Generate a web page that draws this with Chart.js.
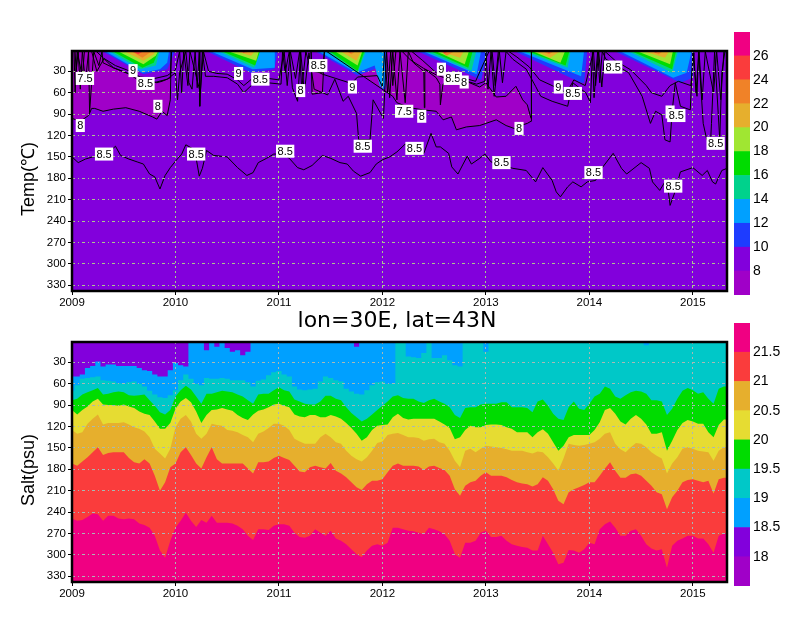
<!DOCTYPE html>
<html>
<head>
<meta charset="utf-8">
<script src="https://cdn.jsdelivr.net/npm/chart.js@4"></script>
<style>
  html, body { margin: 0; padding: 0; background: #fff; }
  canvas { position: absolute; }
</style>
</head>
<body>
<canvas id="tempChart" width="800" height="309" style="left:0;top:0"></canvas>
<canvas id="saltChart" width="800" height="309" style="left:0;top:309px"></canvas>
<canvas id="tempBar" width="66" height="309" style="left:734px;top:0"></canvas>
<canvas id="saltBar" width="66" height="309" style="left:734px;top:309px"></canvas>
<script>
const yearTicks = [2009, 2010, 2011, 2012, 2013, 2014, 2015];
const depthTicks = [30, 60, 90, 120, 150, 180, 210, 240, 270, 300, 330];

// ---- salinity: depth (m) of each isohaline on a common time grid
const times = [
  2009.00,2009.05,2009.10,2009.15,2009.20,2009.25,2009.30,2009.35,2009.40,2009.45,2009.50,2009.55,2009.60,2009.65,2009.70,2009.75,2009.80,2009.85,2009.90,2009.95,
  2010.00,2010.05,2010.10,2010.15,2010.20,2010.25,2010.30,2010.35,2010.40,2010.45,2010.50,2010.55,2010.60,2010.65,2010.70,2010.75,2010.80,2010.85,2010.90,2010.95,
  2011.00,2011.05,2011.10,2011.15,2011.20,2011.25,2011.30,2011.35,2011.40,2011.45,2011.50,2011.55,2011.60,2011.65,2011.70,2011.75,2011.80,2011.85,2011.90,2011.95,
  2012.00,2012.05,2012.10,2012.15,2012.20,2012.25,2012.30,2012.35,2012.40,2012.45,2012.50,2012.55,2012.60,2012.65,2012.70,2012.75,2012.80,2012.85,2012.90,2012.95,
  2013.00,2013.05,2013.10,2013.15,2013.20,2013.25,2013.30,2013.35,2013.40,2013.45,2013.50,2013.55,2013.60,2013.65,2013.70,2013.75,2013.80,2013.85,2013.90,2013.95,
  2014.00,2014.05,2014.10,2014.15,2014.20,2014.25,2014.30,2014.35,2014.40,2014.45,2014.50,2014.55,2014.60,2014.65,2014.70,2014.75,2014.80,2014.85,2014.90,2014.95,
  2015.00,2015.05,2015.10,2015.15,2015.20,2015.25,2015.30,2015.35];
const salt185 = [
  50,50,47,38,35,29,36,33,33,35,35,35,35,38,41,42,47,50,50,41,
  31,34,36,0,0,0,13,0,8,0,10,15,13,20,15,0,0,0,0,0,
  0,0,0,0,0,0,0,0,0,0,0,0,0,0,0,8,0,0,0,0,
  0,0,0,0,0,0,0,0,0,0,0,0,0,0,0,0,0,0,0,0,
  0,0,0,0,0,0,0,0,0,0,0,0,0,0,0,0,0,0,0,0,
  0,0,0,0,0,0,0,0,0,0,0,0,0,0,0,0,0,0,0,0,
  0,0,0,0,0,0,0,0];
const salt19 = [
  70,62,53,52,51,50,55,56,57,59,60,58,57,60,64,70,75,79,80,76,
  69,55,47,53,60,62,52,53,53,52,53,55,55,55,58,64,56,54,48,44,
  42,47,50,64,68,69,68,67,57,50,52,55,57,67,71,74,75,69,62,58,
  57,60,60,0,0,22,23,24,17,0,24,24,20,27,34,36,0,0,0,0,
  15,0,0,0,0,0,0,0,0,0,0,0,0,0,0,0,0,0,0,0,
  0,0,0,0,0,0,0,0,0,0,0,6,0,0,0,0,0,0,0,0,
  0,0,0,0,0,0,0,0];
const salt195 = [
  83,81,75,72,69,66,75,74,72,71,72,76,77,76,75,83,91,100,103,97,
  78,69,63,68,78,88,74,74,72,70,71,72,75,78,83,88,75,74,74,69,
  65,69,71,82,85,88,89,89,85,77,77,81,83,93,101,107,113,109,103,97,
  91,85,78,76,80,81,81,85,87,83,81,85,88,93,104,108,94,93,93,89,
  88,88,88,86,86,93,93,93,94,100,85,82,91,102,109,111,93,85,95,97,
  88,78,74,64,67,78,81,76,72,70,71,74,83,83,85,104,95,81,70,66,
  69,74,72,81,88,67,64,64];
const salt20 = [
  97,103,97,92,85,81,89,90,90,91,89,92,94,99,102,104,113,123,123,115,
  95,85,80,86,99,115,104,97,96,94,96,98,104,108,111,103,98,96,93,89,
  88,91,93,103,106,107,104,104,107,107,104,106,109,115,122,130,140,135,125,119,
  118,117,107,102,108,110,109,109,109,109,109,113,117,122,138,135,125,119,121,121,
  118,117,117,118,121,123,128,128,128,135,128,124,130,142,154,147,135,132,132,132,
  132,125,114,97,94,102,113,117,109,104,109,117,130,130,128,154,140,125,115,111,
  113,116,116,128,135,118,110,110];
const salt205 = [
  125,130,128,116,109,103,117,115,115,115,114,117,121,123,127,135,151,158,165,151,
  121,109,104,113,130,137,130,116,118,119,125,126,128,132,135,142,130,127,122,116,
  116,119,125,137,141,144,144,144,135,130,135,142,144,154,161,166,169,163,154,143,
  141,132,130,129,132,135,135,136,140,138,137,142,144,154,168,177,154,151,156,151,
  147,148,149,150,152,154,154,154,156,158,155,156,163,172,182,165,144,146,147,146,
  144,142,137,130,128,144,152,156,149,143,144,149,156,161,165,186,172,163,151,149,
  151,154,155,156,168,154,149,149];
const salt21 = [
  172,175,169,163,156,149,160,157,156,156,156,164,170,172,166,172,189,210,198,177,
  172,156,149,160,172,179,163,149,166,172,172,172,172,172,179,186,170,170,169,164,
  161,164,167,175,183,184,177,175,177,179,171,182,186,191,198,205,209,201,196,196,
  194,184,175,172,175,175,175,176,181,176,175,178,181,189,208,217,203,198,196,189,
  184,189,189,189,191,195,198,200,201,204,201,191,196,208,224,229,212,208,205,202,
  198,198,189,179,170,182,192,192,187,186,189,196,203,212,215,236,219,210,198,195,
  194,196,198,196,214,194,192,192];
const salt215 = [
  249,252,251,247,242,243,252,245,245,249,250,249,250,256,258,262,273,294,304,280,
  262,252,241,252,261,251,255,245,255,255,255,256,259,264,273,279,264,264,265,259,
  257,257,259,269,275,276,273,264,269,273,266,277,280,285,292,299,303,294,287,285,
  287,283,262,262,264,266,267,269,271,262,264,267,271,280,299,304,283,283,280,269,
  266,275,275,273,280,285,287,289,290,294,294,273,285,297,313,311,293,294,297,292,
  283,285,264,257,253,262,273,273,266,264,273,285,291,294,292,318,287,280,277,273,
  273,277,277,285,297,273,270,270];
const saltLevels = [18.5, 19, 19.5, 20, 20.5, 21, 21.5];

// ---- temperature: depth of each isotherm, [year, depth]
const iso10 = [[2009.27,0],[2009.69,34],[2009.92,27],[2010.00,0],[2010.275,0],[2010.73,32],[2010.955,27],[2010.99,0],[2011.33,0],[2011.76,36],[2011.96,25],[2011.985,55],[2012.03,55],[2012.04,0],[2012.31,0],[2012.955,42],[2013.02,0],[2013.25,0],[2013.92,46],[2013.95,46],[2013.98,0],[2014.22,0],[2014.88,46],[2015.00,39],[2015.01,0],[2015.29,0],[2015.33,6]];
const iso12 = [[2009.30,0],[2009.68,32],[2009.85,27],[2009.92,18],[2009.94,0],[2010.31,0],[2010.745,27],[2010.955,25],[2010.96,0],[2011.36,0],[2011.75,32],[2011.925,22],[2011.975,51],[2012.02,51],[2012.021,0],[2012.36,0],[2012.91,34],[2012.955,0],[2013.29,0],[2013.92,37],[2013.95,0],[2014.27,0],[2014.81,39],[2014.94,32],[2014.99,0]];
const iso14 = [[2009.34,0],[2009.66,27],[2009.81,22],[2009.85,0],[2010.39,0],[2010.76,25],[2010.825,0],[2011.44,0],[2011.76,32],[2011.845,0],[2012.39,0],[2012.86,29.5],[2012.91,0],[2013.33,0],[2013.79,25],[2013.82,0],[2014.35,0],[2014.80,32],[2014.86,0]];
const iso16 = [[2009.37,0],[2009.68,25],[2009.79,18],[2009.84,0],[2010.42,0],[2010.77,22],[2010.82,0],[2011.47,0],[2011.76,29.5],[2011.83,0],[2012.44,0],[2012.83,25],[2012.875,0],[2013.37,0],[2013.77,22],[2013.81,0],[2014.38,0],[2014.80,27],[2014.84,0]];
const iso18 = [[2009.42,0],[2009.69,20],[2009.81,8],[2009.84,0],[2010.47,0],[2010.78,15],[2010.81,0],[2011.52,0],[2011.76,22],[2011.81,0],[2012.49,0],[2012.795,20],[2012.84,0],[2013.42,0],[2013.72,18],[2013.77,0],[2014.43,0],[2014.78,20],[2014.81,0]];
const iso20 = [[2009.48,0],[2009.69,15],[2009.79,6],[2009.81,0],[2010.53,0],[2010.73,8],[2010.78,0],[2011.57,0],[2011.75,15],[2011.80,0],[2012.52,0],[2012.75,11],[2012.795,0],[2013.46,0],[2013.62,11],[2013.74,0],[2014.48,0],[2014.73,11],[2014.78,0]];
const iso22 = [[2009.55,0],[2009.68,11],[2009.76,3],[2009.77,0],[2010.60,0],[2010.68,4],[2010.745,0],[2011.63,0],[2011.70,6],[2011.76,0],[2012.55,0],[2012.62,8],[2012.72,0],[2013.52,0],[2013.61,6],[2013.68,0],[2014.57,0],[2014.67,6],[2014.73,0]];
const iso24 = [[2009.56,0],[2009.64,6],[2009.71,0],[2010.615,0],[2010.66,4],[2010.71,0],[2011.65,0],[2011.69,4],[2011.73,0],[2012.57,0],[2012.60,5],[2012.66,0],[2013.56,0],[2013.61,4],[2013.66,0],[2014.59,0],[2014.64,4],[2014.70,0]];
const iso26 = [[2014.60,0],[2014.63,2.5],[2014.66,0]];

// water colder than 8: patch between coldUpper and coldLower
const coldTimes = [2009.00,2009.08,2009.16,2009.19,2009.22,2009.30,2009.40,2009.52,2009.65,2009.78,2009.82,2009.87,2009.92,2009.95,2009.96,2011.31,2011.32,2011.42,2011.44,2012.10,2012.14,2012.266,2012.39,2012.52,2012.586,2012.667,2012.715,2012.81,2012.94,2013.00,2013.10,2013.195,2013.29,2013.356,2013.40,2013.436,2013.44];
const coldLower = [96,100,92,82,82,86,83,81,86,94,97,86,92,70,0,0,62,60,0,65,74,81,84,86,98,94,112,108,106,103,98,106,111,105,103,100,0];
const coldUpper = [0,0,0,0,0,11,25,32,39,44,46,44,41,39,0,0,30,32,0,0,0,0,15,32,34,37,38,44,52,46,66,65,51,70,77,96,0];

// contour lines
const line85Deep = [[2009.00,150],[2009.06,158],[2009.13,153],[2009.20,150],[2009.27,149],[2009.34,146],[2009.42,135],[2009.47,148],[2009.55,153],[2009.63,157],[2009.69,160],[2009.75,174],[2009.80,178],[2009.85,195],[2009.90,176],[2009.95,165],[2010.00,156],[2010.06,146],[2010.10,133],[2010.16,138],[2010.20,152],[2010.23,177],[2010.26,166],[2010.30,141],[2010.37,148],[2010.50,150],[2010.60,165],[2010.69,176],[2010.75,172],[2010.80,158],[2010.88,152],[2010.95,146],[2011.04,146],[2011.10,152],[2011.18,165],[2011.24,168],[2011.32,162],[2011.42,148],[2011.50,152],[2011.59,158],[2011.66,160],[2011.72,170],[2011.79,177],[2011.88,172],[2011.94,160],[2012.00,154],[2012.07,150],[2012.14,143],[2012.14,143],[2012.22,132],[2012.30,145],[2012.40,145],[2012.47,117],[2012.52,136],[2012.56,136],[2012.64,145],[2012.67,164],[2012.73,174],[2012.78,160],[2012.82,149],[2012.86,160],[2012.94,152],[2012.99,146],[2013.05,157],[2013.26,166],[2013.39,169],[2013.48,185],[2013.55,165],[2013.64,183],[2013.68,199],[2013.72,206],[2013.79,192],[2013.84,185],[2013.92,192],[2013.98,185],[2014.06,183],[2014.12,166],[2014.23,145],[2014.31,166],[2014.36,174],[2014.50,158],[2014.58,166],[2014.61,185],[2014.68,197],[2014.73,185],[2014.76,195],[2014.78,218],[2014.82,202],[2014.88,171],[2015.00,165],[2015.09,176],[2015.14,169],[2015.19,185],[2015.22,188],[2015.28,169],[2015.33,166]];
const line85Upper = [[2009.03,2],[2009.04,30],[2009.06,2],[2009.08,55],[2009.10,2],[2009.13,46],[2009.16,2],[2009.17,88],[2009.21,2],[2009.26,22],[2009.29,2],[2009.30,18],[2009.40,25],[2009.53,32],[2009.66,44],[2009.79,46],[2009.92,41],[2010.00,32],[2010.02,70],[2010.04,32],[2010.10,2],[2010.13,46],[2010.16,55],[2010.19,2],[2010.21,53],[2010.23,2],[2010.235,79],[2010.26,2],[2010.29,37],[2010.37,37],[2010.50,39],[2010.60,48],[2010.66,60],[2010.76,46],[2010.89,46],[2011.02,48],[2011.035,2],[2011.06,32],[2011.10,2],[2011.13,53],[2011.18,72],[2011.21,2],[2011.245,60],[2011.29,4],[2011.34,55],[2011.47,63],[2011.54,41],[2011.62,72],[2011.67,65],[2011.75,89],[2011.77,126],[2011.88,126],[2011.91,70],[2012.01,96],[2012.04,2],[2012.07,67],[2012.10,2],[2012.14,70],[2012.17,2],[2012.22,74],[2012.25,2],[2012.30,18],[2012.40,30],[2012.405,81],[2012.41,27],[2012.52,39],[2012.555,48],[2012.56,77],[2012.585,48],[2012.75,41],[2012.91,48],[2012.99,44],[2013.00,2],[2013.02,55],[2013.05,2],[2013.08,65],[2013.13,2],[2013.16,46],[2013.195,2],[2013.23,8],[2013.26,13],[2013.39,27],[2013.48,51],[2013.53,65],[2013.64,72],[2013.79,79],[2013.84,46],[2013.965,60],[2014.01,74],[2014.03,2],[2014.045,67],[2014.08,2],[2014.10,46],[2014.125,2],[2014.16,13],[2014.22,18],[2014.38,32],[2014.51,65],[2014.59,103],[2014.64,86],[2014.70,91],[2014.73,126],[2014.78,129],[2014.80,86],[2014.83,46],[2014.88,79],[2014.975,84],[2015.00,4],[2015.04,65],[2015.055,2],[2015.10,103],[2015.135,126],[2015.17,133],[2015.18,103],[2015.21,2],[2015.26,126],[2015.28,32],[2015.31,2]];
const line9Upper = [[2009.02,2],[2009.03,60],[2009.05,2],[2009.10,38],[2009.12,2],[2009.19,2],[2009.24,30],[2009.31,12],[2009.42,22],[2009.53,28],[2009.66,38],[2009.80,40],[2009.92,36],[2010.00,28],[2010.04,2],[2010.06,60],[2010.08,2],[2010.12,50],[2010.14,2],[2010.24,60],[2010.27,2],[2010.32,30],[2010.40,33],[2010.50,34],[2010.60,42],[2010.66,50],[2010.76,38],[2010.90,40],[2011.00,42],[2011.05,2],[2011.08,50],[2011.11,2],[2011.16,40],[2011.20,2],[2011.22,55],[2011.26,2],[2011.30,25],[2011.42,34],[2011.55,40],[2011.70,47],[2011.76,38],[2011.95,36],[2012.00,52],[2012.02,2],[2012.05,60],[2012.08,2],[2012.10,50],[2012.13,2],[2012.19,2],[2012.27,14],[2012.40,26],[2012.52,35],[2012.62,40],[2012.75,38],[2012.90,44],[2013.03,2],[2013.06,2],[2013.09,50],[2013.12,2],[2013.22,2],[2013.30,10],[2013.42,24],[2013.52,42],[2013.64,50],[2013.78,60],[2013.85,42],[2013.96,50],[2014.04,2],[2014.06,50],[2014.09,2],[2014.12,52],[2014.15,2],[2014.25,15],[2014.40,28],[2014.55,50],[2014.60,60],[2014.70,65],[2014.78,50],[2014.86,44],[2014.98,50],[2015.01,4],[2015.03,60],[2015.06,2],[2015.09,70],[2015.12,2],[2015.20,60],[2015.23,2],[2015.27,70],[2015.30,2]];

// contour labels
const labelTexts = ['7.5','9','8.5','8','8','8.5','8.5','9','8.5','8','8.5','8.5','9','8.5','7.5','8','8.5','9','8.5','8','8','8.5','9','8.5','8.5','8.5','9','8.5','8.5','8.5'];
const labelYears = [2009.125,2009.59,2009.71,2009.83,2009.08,2009.31,2010.20,2010.61,2010.82,2011.21,2011.06,2011.38,2011.71,2011.81,2012.21,2012.38,2012.31,2012.57,2012.68,2012.79,2013.32,2013.15,2013.70,2013.84,2014.04,2014.23,2014.78,2014.84,2015.22,2014.81];
const labelDepths = [40,29,47,79,106,146,146,33,41,57,142,22,52,135,86,93,138,27,40,45,110,158,52,61,172,24,87,92,131,191];

// colour bars
const tempBarEdges = [6,8,10,12,14,16,18,20,22,24,26,28];
const tempBarColors = ['#a000c8','#8200dc','#1e3cff','#00a0ff','#00d28c','#00dc00','#a0e632','#e6af2d','#f08228','#fa3c3c','#f00082'];
const saltBarEdges = [17.5,18,18.5,19,19.5,20,20.5,21,21.5,22];
const saltBarColors = ['#a000c8','#8200dc','#00a0ff','#00c8c8','#00dc00','#e6dc32','#e6af2d','#fa3c3c','#f00082'];

const fontName = '"Liberation Sans", sans-serif';
const depthMin = 1.5, depthMax = 338;

Chart.defaults.animation = false;
Chart.defaults.responsive = false;
Chart.defaults.devicePixelRatio = 1;
Chart.defaults.events = [];
Chart.defaults.color = '#000';

function pts(pairs) { return pairs.map(p => ({x: p[0], y: p[1]})); }
function grid(ts, ds) { return ts.map((t, i) => ({x: t, y: ds[i]})); }

// background under the marks; side title, frame and contour labels above them
function panelPlugin(bg, labels, sideTitle, heading) {
  return {
    id: 'panel',
    beforeDraw(chart) {
      const a = chart.chartArea, c = chart.ctx;
      c.fillStyle = bg;
      c.fillRect(a.left, a.top, a.width, a.height);
    },
    afterDraw(chart) {
      const a = chart.chartArea, c = chart.ctx;
      c.save();
      if (labels) {
        c.font = '11px ' + fontName;
        c.textAlign = 'center';
        c.textBaseline = 'middle';
        labelTexts.forEach((t, i) => {
          const x = chart.scales.x.getPixelForValue(labelYears[i]);
          const y = chart.scales.y.getPixelForValue(labelDepths[i]);
          const w = c.measureText(t).width + 3;
          c.fillStyle = '#fff';
          c.fillRect(x - w / 2, y - 6.5, w, 13);
          c.fillStyle = '#000';
          c.fillText(t, x, y + 0.5);
        });
      }
      c.strokeStyle = '#000';
      c.lineWidth = 2.5;
      c.strokeRect(a.left, a.top, a.width, a.height);
      c.fillStyle = '#000';
      c.textAlign = 'center';
      c.textBaseline = 'middle';
      if (heading) {
        c.font = '22px "DejaVu Sans", sans-serif';
        c.fillText(heading, 397, 12);
      }
      c.translate(29, (a.top + a.bottom) / 2 + 8);
      c.rotate(-Math.PI / 2);
      c.font = '18px ' + fontName;
      c.fillText(sideTitle, 0, 0);
      c.restore();
    }
  };
}

function panelScales(gridColor) {
  return {
    x: {
      type: 'linear', min: 2009, max: 2015.33,
      afterBuildTicks(s) { s.ticks = yearTicks.map(v => ({value: v})); },
      afterFit(s) { s.height = 18; },
      ticks: {font: {family: fontName, size: 11.5}, maxRotation: 0, autoSkip: false, padding: 1, callback: v => String(v)},
      grid: {color: gridColor, lineWidth: 1, z: 1, tickLength: 4, tickColor: '#000', tickBorderDash: [0, 0]},
      border: {display: false, dash: [2, 3]}
    },
    y: {
      type: 'linear', reverse: true, min: depthMin, max: depthMax,
      afterBuildTicks(s) { s.ticks = depthTicks.map(v => ({value: v})); },
      afterFit(s) { s.width = 72; },
      ticks: {font: {family: fontName, size: 11.5}, autoSkip: false, padding: 2, callback: v => String(v)},
      grid: {color: gridColor, lineWidth: 1, z: 1, tickLength: 4, tickColor: '#000', tickBorderDash: [0, 0]},
      border: {display: false, dash: [3, 3, 1, 3]}
    }
  };
}

// temperature panel, painted from the bottom layer up
const tempData = [];
function addFill(data, color, value) {
  tempData.push({data: data, borderWidth: 0, pointRadius: 0, backgroundColor: color, fill: {value: value}});
}
addFill(grid(coldTimes, coldLower), '#a000c8', 0);
addFill(grid(coldTimes, coldUpper), '#8200dc', 0);
[iso10, iso12, iso14, iso16, iso18, iso20, iso22, iso24, iso26].forEach((iso, i) => {
  addFill(pts(iso), tempBarColors[i + 2], 0);
});
[grid(coldTimes, coldLower), grid(coldTimes, coldUpper), pts(line9Upper), pts(line85Upper), pts(line85Deep)].forEach(d => {
  tempData.push({data: d, borderColor: '#000', borderWidth: 1, pointRadius: 0, fill: false});
});

new Chart(document.getElementById('tempChart'), {
  type: 'line',
  data: {datasets: tempData.reverse()},
  options: {
    layout: {padding: {left: 0, right: 73, top: 51, bottom: 0}},
    plugins: {legend: {display: false}},
    scales: panelScales('#a8c88c')
  },
  plugins: [panelPlugin('#8200dc', true, 'Temp(℃)')]
});

// salinity panel
const saltLayers = [salt185, salt19, salt195, salt20, salt205, salt21, salt215];
const saltColors = saltBarColors.slice(2);
const saltData = saltLayers.map((s, i) => ({
  label: String(saltLevels[i]), data: grid(times, s), borderWidth: 0, pointRadius: 0,
  stepped: i < 2 ? 'middle' : false, backgroundColor: saltColors[i], fill: {value: depthMax}
}));

new Chart(document.getElementById('saltChart'), {
  type: 'line',
  data: {datasets: saltData.reverse()},
  options: {
    layout: {padding: {left: 0, right: 73, top: 33, bottom: 18}},
    plugins: {legend: {display: false}},
    scales: panelScales('#a8b8b4')
  },
  plugins: [panelPlugin('#8200dc', false, 'Salt(psu)', 'lon=30E, lat=43N')]
});

function colorBar(id, edges, colors, top, bottom) {
  new Chart(document.getElementById(id), {
    type: 'bar',
    data: {
      labels: [''],
      datasets: colors.map((c, i) => ({
        data: [[edges[i], edges[i + 1]]], backgroundColor: c, borderWidth: 0,
        barPercentage: 1, categoryPercentage: 1
      }))
    },
    options: {
      layout: {padding: {left: 0, right: 0, top: top, bottom: bottom}},
      plugins: {legend: {display: false}},
      scales: {
        x: {display: false, stacked: true},
        y: {
          position: 'right', min: edges[0], max: edges[edges.length - 1],
          afterFit(s) { s.width = 50; },
          afterBuildTicks(s) { s.ticks = edges.slice(1, -1).map(v => ({value: v})); },
          ticks: {font: {family: fontName, size: 14}, padding: 3, autoSkip: false, callback: v => String(v)},
          grid: {display: false, drawTicks: false},
          border: {display: false}
        }
      }
    }
  });
}
colorBar('tempBar', tempBarEdges, tempBarColors, 32, 14);
colorBar('saltBar', saltBarEdges, saltBarColors, 14, 32);
</script>
</body>
</html>
